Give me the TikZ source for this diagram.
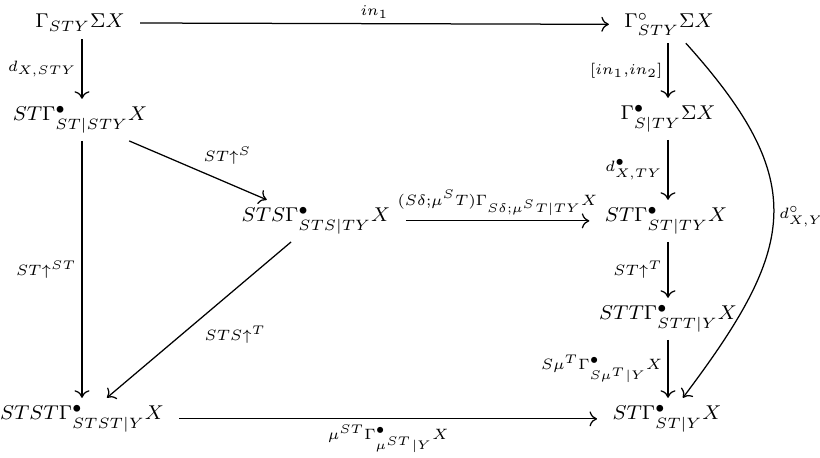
\documentclass[tikz,border=0pt]{standalone}
\usetikzlibrary{arrows.meta}
\begin{document}
\begin{tikzpicture}[x=0.4pt,y=-0.4pt,
  every node/.style={font=\fontsize{8.5}{10.5}\selectfont},
  obj/.style={anchor=base, inner xsep=6pt, inner ysep=3pt},
  arr/.style={-{Computer Modern Rightarrow[length=3pt,width=6pt]}, line width=0.5pt},
  lab/.style={inner sep=2pt}]
\useasboundingbox (0,0) rectangle (820,458);
% objects
\node[obj] (A) at (80,28)  {$\Gamma_{STY}\Sigma X$};
\node[obj] (B) at (669,28) {$\Gamma^{\circ}_{STY}\Sigma X$};
\node[obj] (C) at (80,121) {$ST\Gamma^{\bullet}_{ST|STY}X$};
\node[obj] (D) at (668,120) {$\Gamma^{\bullet}_{S|TY}\Sigma X$};
\node[obj] (E) at (316,222) {$STS\Gamma^{\bullet}_{STS|TY}X$};
\node[obj] (F) at (666,222) {$ST\Gamma^{\bullet}_{ST|TY}X$};
\node[obj] (G) at (668,320) {$STT\Gamma^{\bullet}_{STT|Y}X$};
\node[obj] (H) at (82,420)  {$STST\Gamma^{\bullet}_{STST|Y}X$};
\node[obj] (I) at (667,420) {$ST\Gamma^{\bullet}_{ST|Y}X$};
\coordinate (colL) at (82,0);
\coordinate (colR) at (668,0);
% arrows
\draw[arr] (A) -- node[above, lab] {$\scriptstyle in_1$} (B);
\draw[arr] (A.south -| colL) -- node[left, lab] {$\scriptstyle d_{X,STY}$} (C.north -| colL);
\draw[arr] (B.south -| colR) -- node[left, lab] {$\scriptstyle [in_1,in_2]$} (D.north -| colR);
\draw[arr] (D.south -| colR) -- node[left, lab] {$\scriptstyle d^{\bullet}_{X,TY}$} (F.north -| colR);
\draw[arr] (F.south -| colR) -- node[left, lab] {$\scriptstyle ST{\uparrow}^{T}$} (G.north -| colR);
\draw[arr] (G.south -| colR) -- node[left, lab] {$\scriptstyle S\mu^{T}\Gamma^{\bullet}_{S\mu^{T}|Y}X$} (I.north -| colR);
\draw[arr] (C.south -| colL) -- node[left, lab] {$\scriptstyle ST{\uparrow}^{ST}$} (H.north -| colL);
\draw[arr] (C) -- node[anchor=south west, lab] {$\scriptstyle ST{\uparrow}^{S}$} (E);
\draw[arr] (E) -- node[above, lab] {$\scriptstyle (S\delta;\mu^{S}T)\Gamma_{S\delta;\mu^{S}T|TY}X$} (F);
\draw[arr] (E) -- node[anchor=north west, lab] {$\scriptstyle STS{\uparrow}^{T}$} (H);
\draw[arr] (H) -- node[below, lab] {$\scriptstyle \mu^{ST}\Gamma^{\bullet}_{\mu^{ST}|Y}X$} (I);
\draw[arr] (B) to[out=-48, in=53, looseness=1.35] node[right, lab] {$\scriptstyle d^{\circ}_{X,Y}$} (I);
\end{tikzpicture}
\end{document}
